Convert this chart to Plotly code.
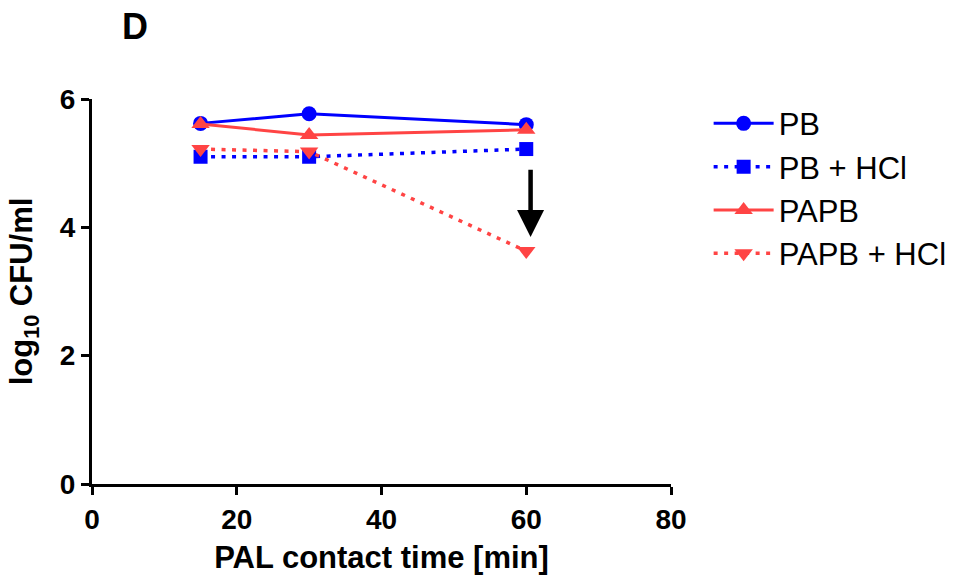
import plotly.graph_objects as go

time_min = [15, 30, 60]
pb = [5.62, 5.77, 5.60]
pb_hcl = [5.10, 5.10, 5.22]
papb = [5.61, 5.44, 5.52]
papb_hcl = [5.22, 5.18, 3.63]
series_names = ["PB", "PB + HCl", "PAPB", "PAPB + HCl"]

BLUE = "#0000FF"
RED = "#FF4444"
FONT = "Arial, Liberation Sans, sans-serif"
DOTS = "4px,6.5px"

fig = go.Figure()
specs = [
    (pb, BLUE, "solid", "circle", 15),
    (pb_hcl, BLUE, DOTS, "square", 14),
    (papb, RED, "solid", "triangle-up", 16),
    (papb_hcl, RED, DOTS, "triangle-down", 16),
]
for name, (vals, col, dash, sym, sz) in zip(series_names, specs):
    fig.add_trace(go.Scatter(
        x=time_min, y=vals, name=name, mode="lines+markers",
        line=dict(color=col, width=3.5 if dash == DOTS else 3, dash=dash),
        marker=dict(color=col, symbol=sym, size=sz),
        cliponaxis=False,
    ))

# arrow indicating reduction
fig.add_annotation(x=60.6, y=3.85, ax=60.6, ay=4.92, xref="x", yref="y",
                   axref="x", ayref="y", text="", showarrow=True,
                   arrowhead=2, arrowsize=1.2, arrowwidth=4.5, arrowcolor="black")

fig.add_annotation(text="D", xref="paper", yref="paper",
                   x=(135 - 92) / 579, y=1 + (99 - 26) / 385, xanchor="center", yanchor="middle",
                   showarrow=False,
                   font=dict(size=36, color="black", family=FONT, weight="bold"))

axis_common = dict(
    showline=True, linecolor="black", linewidth=3, ticks="outside",
    tickwidth=3, ticklen=8, tickcolor="black", showgrid=False, zeroline=False,
    tickfont=dict(size=28, color="black", family=FONT, weight="bold"),
)
fig.update_xaxes(range=[0, 80], tickvals=[0, 20, 40, 60, 80],
                 title=dict(text="PAL contact time [min]",
                            font=dict(size=31, color="black", family=FONT, weight="bold"),
                            standoff=14),
                 **axis_common)
fig.update_yaxes(range=[0, 6], tickvals=[0, 2, 4, 6],
                 title=dict(text="log<sub>10</sub> CFU/ml",
                            font=dict(size=31, color="black", family=FONT, weight="bold"),
                            standoff=18),
                 **axis_common)

fig.update_layout(
    width=955, height=575,
    margin=dict(l=92, r=284, t=99, b=91, autoexpand=False),
    plot_bgcolor="white", paper_bgcolor="white",
    font=dict(family=FONT, color="black"),
    showlegend=True,
    legend=dict(x=1.065, y=1.006, xanchor="left", yanchor="top",
                font=dict(size=31, color="black", family=FONT),
                itemwidth=60),
)

fig.write_html("out.html")
